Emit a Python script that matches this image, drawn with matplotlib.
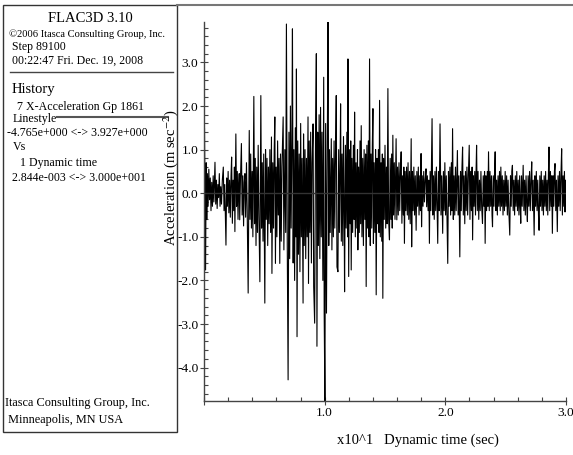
import numpy as np
import matplotlib
matplotlib.use("Agg")
import matplotlib.pyplot as plt
from matplotlib.patches import Rectangle
from matplotlib.lines import Line2D
from matplotlib.ticker import MultipleLocator, FuncFormatter

plt.rcParams['font.family'] = ['Liberation Serif', 'DejaVu Serif']
plt.rcParams['mathtext.fontset'] = 'stix'

# ---- history 7: X-acceleration at gp 1861 vs dynamic time ----
time_s = [
    0.00, 0.04, 0.09, 0.13, 0.18, 0.23, 0.28, 0.34, 0.40, 0.46, 0.52, 0.58, 0.64, 0.70, 0.76, 0.82,
    0.91, 0.97, 1.03, 1.09, 1.15, 1.21, 1.27, 1.33, 1.39, 1.45, 1.52, 1.60, 1.66, 1.72, 1.82, 1.88,
    1.94, 2.00, 2.06, 2.12, 2.18, 2.24, 2.29, 2.35, 2.41, 2.47, 2.52, 2.56, 2.64, 2.70, 2.76, 2.82,
    2.88, 2.92, 2.96, 3.02, 3.10, 3.16, 3.22, 3.28, 3.34, 3.39, 3.45, 3.52, 3.58, 3.66, 3.75, 3.81,
    3.87, 3.93, 3.99, 4.05, 4.13, 4.19, 4.25, 4.31, 4.37, 4.43, 4.49, 4.55, 4.63, 4.71, 4.77, 4.83,
    4.89, 4.95, 5.04, 5.10, 5.16, 5.22, 5.28, 5.34, 5.40, 5.46, 5.52, 5.59, 5.63, 5.70, 5.76, 5.82,
    5.87, 5.92, 5.98, 6.04, 6.10, 6.16, 6.22, 6.28, 6.34, 6.40, 6.46, 6.56, 6.62, 6.70, 6.77, 6.83,
    6.90, 6.97, 7.04, 7.10, 7.16, 7.22, 7.28, 7.33, 7.39, 7.45, 7.51, 7.57, 7.62, 7.66, 7.71, 7.77,
    7.83, 7.89, 7.95, 8.01, 8.07, 8.13, 8.21, 8.25, 8.31, 8.37, 8.43, 8.49, 8.55, 8.62, 8.66, 8.72,
    8.78, 8.84, 8.90, 8.96, 9.04, 9.09, 9.17, 9.24, 9.31, 9.36, 9.42, 9.48, 9.54, 9.60, 9.66, 9.72,
    9.78, 9.85, 9.92, 9.96, 10.02, 10.08, 10.15, 10.22, 10.28, 10.34, 10.40, 10.46, 10.55, 10.60, 10.66, 10.72,
    10.78, 10.84, 10.90, 10.96, 11.02, 11.10, 11.16, 11.22, 11.28, 11.32, 11.38, 11.44, 11.50, 11.56, 11.62, 11.65,
    11.72, 11.78, 11.84, 11.90, 11.93, 11.99, 12.05, 12.11, 12.16, 12.20, 12.26, 12.32, 12.38, 12.44, 12.48, 12.54,
    12.60, 12.66, 12.72, 12.75, 12.81, 12.87, 12.93, 12.98, 13.03, 13.09, 13.15, 13.21, 13.27, 13.33, 13.39, 13.44,
    13.50, 13.56, 13.62, 13.67, 13.72, 13.78, 13.84, 13.90, 13.95, 14.00, 14.04, 14.10, 14.16, 14.22, 14.27, 14.33,
    14.39, 14.45, 14.50, 14.55, 14.61, 14.67, 14.73, 14.78, 14.82, 14.88, 14.94, 15.00, 15.06, 15.12, 15.18, 15.24,
    15.30, 15.37, 15.43, 15.49, 15.55, 15.60, 15.65, 15.71, 15.77, 15.83, 15.88, 15.92, 15.98, 16.04, 16.10, 16.16,
    16.22, 16.28, 16.34, 16.40, 16.46, 16.52, 16.56, 16.61, 16.67, 16.73, 16.79, 16.85, 16.91, 16.97, 17.03, 17.09,
    17.17, 17.21, 17.27, 17.33, 17.39, 17.45, 17.51, 17.58, 17.64, 17.70, 17.76, 17.82, 17.88, 17.94, 17.99, 18.03,
    18.09, 18.15, 18.21, 18.27, 18.33, 18.40, 18.45, 18.51, 18.57, 18.63, 18.68, 18.74, 18.80, 18.85, 18.90, 18.96,
    19.02, 19.08, 19.14, 19.20, 19.26, 19.32, 19.37, 19.43, 19.49, 19.56, 19.64, 19.70, 19.78, 19.84, 19.90, 19.96,
    20.02, 20.08, 20.14, 20.20, 20.26, 20.32, 20.38, 20.44, 20.50, 20.55, 20.60, 20.66, 20.72, 20.78, 20.84, 20.90,
    20.96, 21.00, 21.06, 21.12, 21.20, 21.26, 21.32, 21.38, 21.43, 21.49, 21.55, 21.61, 21.67, 21.73, 21.79, 21.85,
    21.91, 21.98, 22.04, 22.10, 22.16, 22.22, 22.26, 22.32, 22.38, 22.44, 22.50, 22.54, 22.59, 22.65, 22.71, 22.77,
    22.83, 22.89, 22.95, 23.01, 23.08, 23.14, 23.20, 23.25, 23.30, 23.36, 23.42, 23.48, 23.53, 23.58, 23.64, 23.70,
    23.76, 23.82, 23.87, 23.91, 23.97, 24.03, 24.08, 24.13, 24.19, 24.25, 24.31, 24.37, 24.43, 24.49, 24.55, 24.60,
    24.66, 24.72, 24.78, 24.84, 24.90, 24.96, 25.02, 25.08, 25.14, 25.20, 25.26, 25.34, 25.40, 25.46, 25.51, 25.56,
    25.62, 25.68, 25.74, 25.80, 25.86, 25.92, 25.98, 26.04, 26.10, 26.16, 26.21, 26.25, 26.31, 26.37, 26.45, 26.51,
    26.57, 26.63, 26.69, 26.75, 26.80, 26.86, 26.92, 26.98, 27.04, 27.10, 27.16, 27.22, 27.28, 27.36, 27.42, 27.48,
    27.54, 27.60, 27.66, 27.72, 27.77, 27.83, 27.89, 27.95, 28.01, 28.07, 28.13, 28.19, 28.25, 28.31, 28.37, 28.43,
    28.49, 28.54, 28.59, 28.65, 28.71, 28.77, 28.82, 28.87, 28.93, 28.99, 29.04, 29.09, 29.15, 29.21, 29.28, 29.34,
    29.40, 29.46, 29.52, 29.58, 29.64, 29.70, 29.76, 29.82, 29.87, 29.92, 29.97, 30.00,
]
accel = [
    0.10, 1.49, -0.20, -1.76, 0.70, -0.60, 0.45, -0.30, 0.55, -0.15, 0.35, -0.40, 0.25, -0.30, 0.40, -0.20,
    0.71, -0.25, 0.30, -0.35, 0.20, -0.10, 0.45, -0.30, 0.15, -0.25, 0.30, 0.60, -0.40, 0.20, -1.19, 0.35,
    -0.30, 0.50, -0.45, 0.30, -0.55, 0.40, 0.83, -0.69, 0.30, -0.40, 0.60, -0.88, 1.36, -0.30, 0.50, -0.60,
    0.20, 0.45, -0.61, 0.30, 1.14, -0.50, 0.40, -0.75, 0.25, 0.45, -0.55, 0.70, -0.40, -2.29, 1.44, -0.60,
    0.90, -0.80, 0.50, -1.00, 2.22, -0.70, 0.80, -1.20, 0.60, -0.90, 1.10, -0.50, -2.03, 2.24, -0.80, 0.70,
    -1.10, 0.90, -2.52, 1.00, -0.60, 0.80, -1.20, 0.60, -0.70, 1.00, -0.90, 1.29, -1.84, 0.70, -0.80, 1.00,
    1.75, -1.61, 0.60, -1.00, 1.20, -0.50, 0.80, -1.61, 0.90, -1.10, 0.60, 1.75, -1.30, 1.00, -0.90, 3.88,
    -1.20, -4.28, 1.40, -1.50, 2.00, -0.80, 1.20, 3.77, -1.60, 1.00, -2.00, 1.50, -1.00, 2.85, -3.29, 1.20,
    -1.40, 0.90, -1.80, 1.60, -1.00, 0.80, -2.52, 1.36, -1.20, 1.00, -1.50, 0.80, -1.00, 1.75, -2.07, 1.20,
    -0.90, 1.40, -1.60, 0.70, 1.59, -2.14, -2.98, 1.20, 3.20, -3.51, 1.40, -1.20, 1.80, -1.50, 1.97, -1.00,
    1.40, -2.00, 2.66, -2.75, -4.765, 1.60, -2.75, 1.20, 3.927, -1.20, 1.00, -0.90, 1.25, -1.30, 0.80, -1.00,
    1.20, -0.80, 1.00, 2.24, -1.69, -1.80, 1.00, -0.90, 0.70, 2.05, -1.10, 0.90, -1.20, 1.30, -0.70, -2.26,
    1.10, -0.80, 1.40, -1.00, 3.08, -1.91, 1.00, -0.70, 1.20, -1.76, 0.80, -0.90, 1.10, -0.60, 1.86, -1.00,
    0.70, -0.80, 1.00, -1.30, 0.60, -0.90, 1.20, -0.70, 1.55, -1.00, 0.80, -1.20, 1.00, -0.60, 0.90, -2.14,
    1.10, -0.80, 1.20, -1.00, 3.08, -1.20, 0.90, -0.80, 1.10, 1.94, -1.15, 0.70, -0.90, 1.00, -2.33, 0.80,
    -0.70, 1.00, -0.90, 2.13, -1.00, 0.70, -1.10, 0.90, -2.41, 0.80, -0.60, 1.10, -0.80, 0.60, -0.70, 2.40,
    -0.60, -1.07, 0.80, -0.60, 0.90, -0.80, 1.33, -0.50, 0.70, -0.60, 0.50, 1.25, -0.61, 0.60, -0.50, 0.70,
    -0.40, 0.50, 0.95, -0.69, 0.40, -0.50, 0.60, -1.15, 0.50, -0.40, 0.60, -0.50, 0.70, -0.60, 0.50, -0.70,
    1.25, -1.23, 0.50, -0.40, 0.60, -0.50, 0.40, -0.85, 0.50, -0.30, 0.60, -0.50, 0.40, -0.40, 0.91, -0.77,
    0.40, -0.30, 0.50, -0.20, 0.30, 0.56, -0.31, 0.40, -0.40, 0.30, -1.15, 0.50, -0.40, 0.60, 1.71, -0.50,
    0.40, -0.60, 0.50, -0.40, 0.60, -0.30, -1.15, 0.50, -0.40, 1.59, -0.50, 0.40, -0.92, 0.50, -0.40, 0.70,
    -0.50, 0.40, -0.60, -1.61, 0.50, -0.30, 0.60, -0.50, 0.70, -0.40, 1.48, -0.60, 0.40, -0.50, 0.60, -0.40,
    0.50, 0.98, -0.50, 0.40, -1.46, 0.50, -0.40, 0.60, 1.06, -0.50, 0.40, -0.70, 0.50, -0.40, 0.60, -0.50,
    0.40, 1.10, -0.60, 0.50, -0.40, 0.60, -1.07, 0.40, -0.30, 0.50, -0.50, 0.40, 1.10, -0.40, 0.50, -0.60,
    0.30, -0.40, 0.50, -0.30, -0.69, 0.40, -0.30, 0.50, -1.15, 0.40, -0.40, 0.50, -0.30, 0.95, -0.40, 0.50,
    -0.30, 0.40, -0.50, -0.77, 0.40, -0.30, 0.50, 0.95, -0.40, 0.30, -0.50, 0.40, -0.30, 0.50, -0.40, 0.60,
    -0.30, 0.40, -0.50, 0.30, -0.40, 0.50, -0.30, 0.40, -0.50, 0.30, -0.40, -0.96, 0.40, -0.30, 0.50, 0.64,
    -0.40, 0.30, -0.50, 0.40, -0.30, 0.50, -0.40, 0.30, -0.50, 0.40, -0.30, -0.69, 0.40, -0.30, 0.64, -0.40,
    0.30, -0.50, 0.40, -0.30, -0.65, 0.40, -0.30, 0.50, -0.40, 0.30, 0.72, -0.40, 0.30, -0.96, 0.40, -0.30,
    0.50, -0.40, 0.30, -0.50, -0.85, 0.40, -0.30, 0.50, -0.40, 0.30, -0.50, 0.40, -0.30, 0.50, -0.40, 0.30,
    -0.50, 0.40, 1.06, -0.40, 0.50, -0.30, 0.40, -0.92, 0.40, -0.30, 0.50, 0.68, -0.40, 0.30, -0.88, 0.40,
    -0.30, 0.50, -0.40, 0.40, 1.02, -0.50, 0.40, -0.30, 0.50, -0.43, 0.30, 0.10,
]

acc_range = (-4.765, 3.927)
time_range = (0.0, 30.0)

header_lines = ["©2006 Itasca Consulting Group, Inc.", "Step 89100", "00:22:47 Fri. Dec. 19, 2008"]
history_lines = [" 7 X-Acceleration Gp 1861", "Linestyle", "-4.765e+000 <-> 3.927e+000",
                 "Vs", " 1 Dynamic time", "2.844e-003 <-> 3.000e+001"]
footer_lines = ["Itasca Consulting Group, Inc.", " Minneapolis, MN USA"]

W, H = 573, 455
fig = plt.figure(figsize=(W / 100, H / 100), dpi=100)


def fx(px):
    return px / W


def fy(py):
    return 1 - py / H


# ---- main history axes ----
ax = fig.add_axes([fx(204), fy(401), (566 - 204) / W, (401 - 22) / H])
ax.plot(time_s, accel, color='black', lw=0.8)
ax.axhline(0, color='#333333', lw=1.0)
ax.set_xlim(*time_range)
ax.set_ylim(*acc_range)

for s in ['top', 'right']:
    ax.spines[s].set_visible(False)
for s in ['left', 'bottom']:
    ax.spines[s].set_color('#444444')
    ax.spines[s].set_linewidth(1.0)

ax.xaxis.set_major_locator(MultipleLocator(10))
ax.xaxis.set_minor_locator(MultipleLocator(2))
ax.yaxis.set_major_locator(MultipleLocator(1))
ax.yaxis.set_minor_locator(MultipleLocator(0.2))
ax.xaxis.set_major_formatter(FuncFormatter(lambda v, p: "" if abs(v) < 1e-9 else f"{v / 10:.1f}"))
ax.yaxis.set_major_formatter(FuncFormatter(lambda v, p: f"{v:.1f}"))
ax.tick_params(which='major', direction='inout', length=6, width=0.8, color='#444444',
               labelsize=9.6, pad=1)
ax.tick_params(which='minor', direction='in', length=3, width=0.8, color='#444444')

fig.text(fx(418), fy(440), "x10^1   Dynamic time (sec)", ha='center', va='center', fontsize=10.5)
fig.text(fx(171), fy(178), r"Acceleration (m sec$^{-2}$)", ha='center', va='center',
         rotation=90, fontsize=10.5)

# ---- legend panel ----
fig.add_artist(Rectangle((fx(3), fy(432)), fx(177) - fx(3), fy(5) - fy(432),
                         transform=fig.transFigure, fill=False, ec='#333333', lw=1.0))
fig.add_artist(Line2D([fx(177), fx(573)], [fy(5), fy(5)], transform=fig.transFigure,
                      color='#777777', lw=1.5))
fig.add_artist(Line2D([fx(10), fx(173)], [fy(72), fy(72)], transform=fig.transFigure,
                      color='#444444', lw=1.0))

fig.text(fx(90), fy(18), "FLAC3D 3.10", ha='center', va='center', fontsize=10.5)
fig.text(fx(9), fy(34), header_lines[0], ha='left', va='center', fontsize=7.6)
fig.text(fx(12), fy(47), header_lines[1], ha='left', va='center', fontsize=8.5)
fig.text(fx(12), fy(61), header_lines[2], ha='left', va='center', fontsize=8.5)

fig.text(fx(12), fy(89), "History", ha='left', va='center', fontsize=10.5)
hist_y = [107, 119, 133, 147, 163, 178]
hist_x = [14, 13, 7, 13, 17, 12]
for txt, xx, yy in zip(history_lines, hist_x, hist_y):
    fig.text(fx(xx), fy(yy), txt, ha='left', va='center', fontsize=8.6)
fig.add_artist(Line2D([fx(57), fx(168)], [fy(117), fy(117)], transform=fig.transFigure,
                      color='#555555', lw=1.5))

fig.text(fx(5), fy(403), footer_lines[0], ha='left', va='center', fontsize=8.8)
fig.text(fx(5), fy(420), footer_lines[1], ha='left', va='center', fontsize=8.8)

fig.savefig("out.png", dpi=100)
